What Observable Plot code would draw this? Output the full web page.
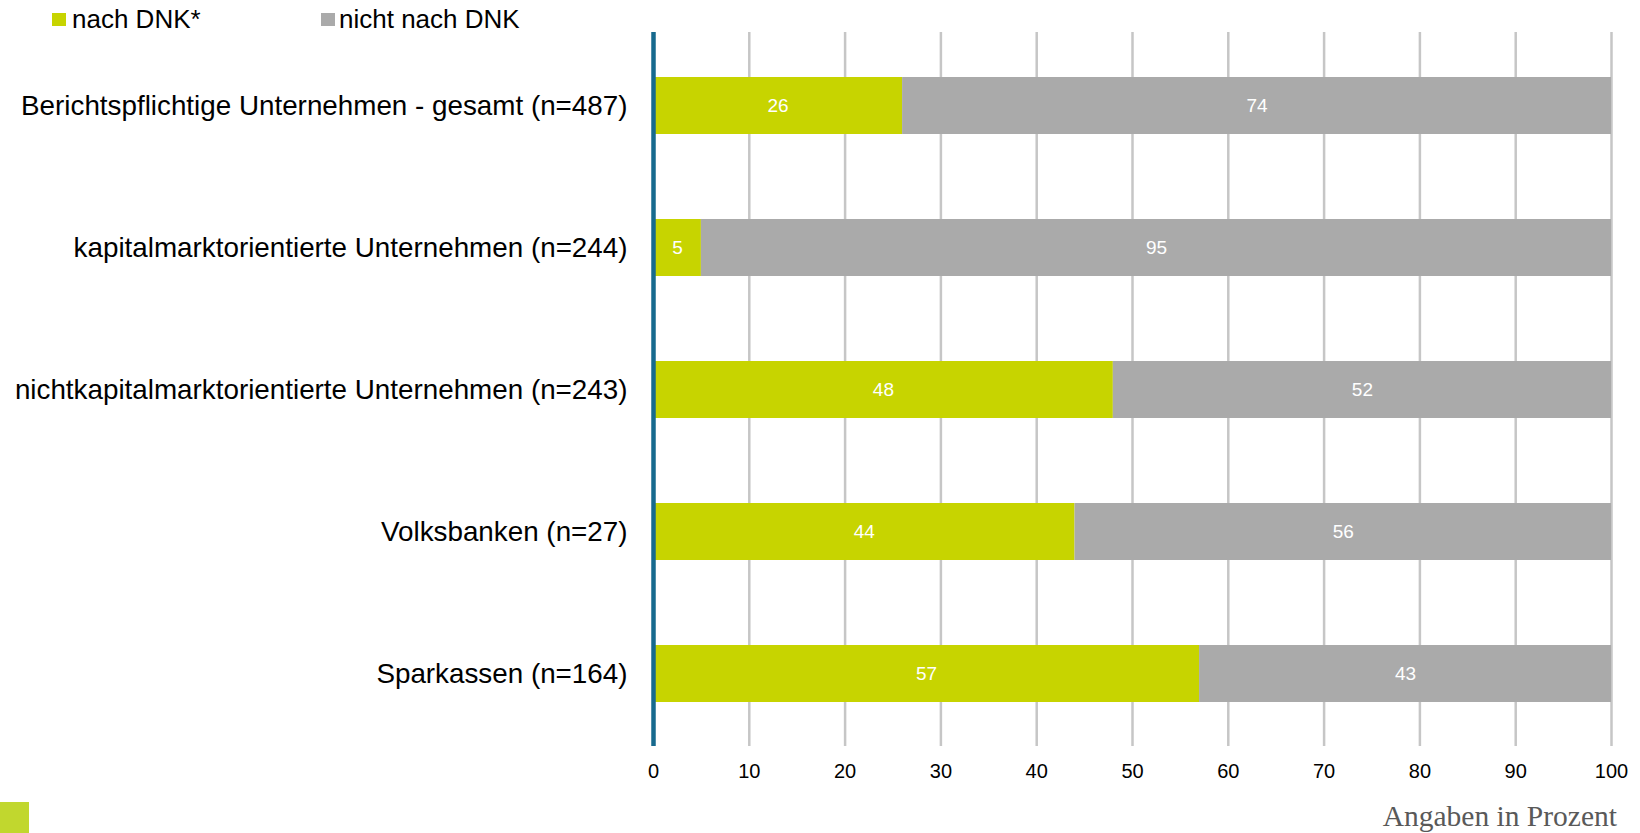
<!DOCTYPE html>
<html>
<head>
<meta charset="utf-8">
<script src="https://cdn.jsdelivr.net/npm/d3@7"></script>
<script src="https://cdn.jsdelivr.net/npm/@observablehq/plot@0.6"></script>
<style>
  html, body { margin: 0; padding: 0; background: #fff; }
  #wrap { position: relative; width: 1640px; height: 833px; overflow: hidden; font-family: "Liberation Sans", Arial, sans-serif; }
  #chart { position: absolute; left: 0; top: 0; }
  #overlay { position: absolute; left: 0; top: 0; pointer-events: none; }
</style>
</head>
<body>
<div id="wrap">
  <div id="chart"></div>
  <svg id="overlay" width="1640" height="833" xmlns="http://www.w3.org/2000/svg">
    <rect x="52" y="13" width="14" height="13" fill="#c7d400"></rect>
    <text x="72" y="28" font-family="Liberation Sans, Arial, sans-serif" font-size="26" fill="#000">nach DNK*</text>
    <rect x="321" y="13" width="14" height="13" fill="#aaaaaa"></rect>
    <text x="339" y="28" font-family="Liberation Sans, Arial, sans-serif" font-size="26" fill="#000">nicht nach DNK</text>
    <text x="1617" y="826" text-anchor="end" font-family="Liberation Serif, Times New Roman, serif" font-size="29.5" fill="#595959">Angaben in Prozent</text>
    <rect x="0" y="802" width="29" height="31" fill="#c1d72e"></rect>
  </svg>
</div>
<script>
const categories = [
  "Berichtspflichtige Unternehmen - gesamt (n=487)",
  "kapitalmarktorientierte Unternehmen (n=244)",
  "nichtkapitalmarktorientierte Unternehmen (n=243)",
  "Volksbanken (n=27)",
  "Sparkassen (n=164)"
];
const series = ["nach DNK*", "nicht nach DNK"];
const nachDNK = [26, 5, 48, 44, 57];
const nichtNachDNK = [74, 95, 52, 56, 43];
const xTicks = [0, 10, 20, 30, 40, 50, 60, 70, 80, 90, 100];
const colors = ["#c7d400", "#aaaaaa"];

const data = [];
categories.forEach((c, i) => {
  data.push({cat: c, series: series[0], value: nachDNK[i]});
  data.push({cat: c, series: series[1], value: nichtNachDNK[i]});
});

const chart = Plot.plot({
  width: 1640,
  height: 833,
  marginLeft: 653,
  marginRight: 29,
  marginTop: 32,
  marginBottom: 87,
  style: {fontFamily: '"Liberation Sans", Arial, sans-serif', background: "transparent", overflow: "visible"},
  x: {domain: [0, 100], ticks: xTicks},
  y: {domain: categories, paddingInner: 0.6, paddingOuter: 0.3},
  color: {domain: series, range: colors},
  marks: [
    Plot.ruleX(xTicks.filter(d => d > 0), {stroke: "#c6c6c6", strokeWidth: 2.5}),
    Plot.barX(data, Plot.stackX({x: "value", y: "cat", fill: "series", order: series})),
    Plot.text(data, Plot.stackX({x: "value", y: "cat", z: "series", text: d => String(d.value), order: series, fill: "white", fontSize: 19})),
    Plot.ruleX([0], {stroke: "#176a8e", strokeWidth: 4.5}),
    Plot.axisX({ticks: xTicks, tickSize: 0, tickPadding: 17, fontSize: 20, fill: "#000", label: null}),
    Plot.axisY({tickSize: 0, tickPadding: 26, fontSize: 27.8, fill: "#000", label: null})
  ]
});
document.getElementById("chart").appendChild(chart);
</script>
</body>
</html>
